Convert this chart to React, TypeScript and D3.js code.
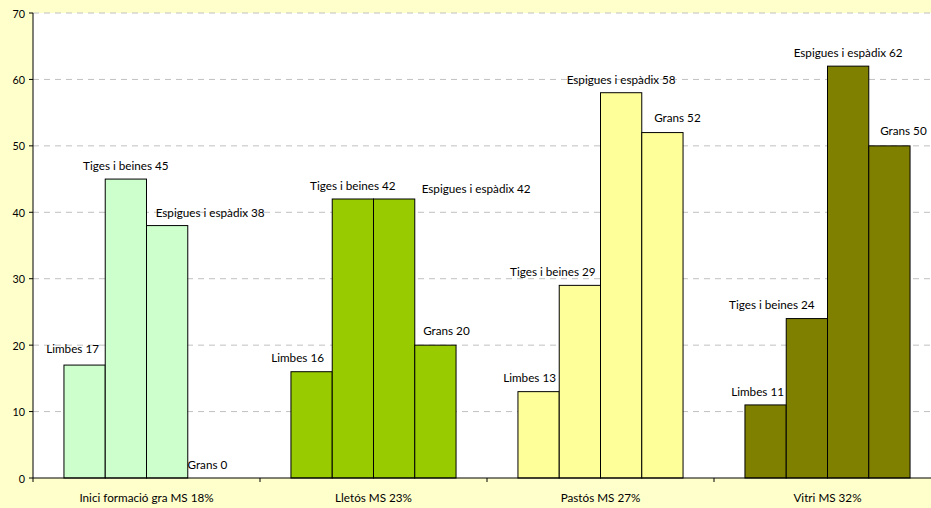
import React from 'react'
import * as d3 from 'd3'

const stages = ['Inici formació gra MS 18%', 'Lletós MS 23%', 'Pastós MS 27%', 'Vitri MS 32%']
const parts = ['Limbes', 'Tiges i beines', 'Espigues i espàdix', 'Grans']
const limbes = [17, 16, 13, 11]
const tiges = [45, 42, 29, 24]
const espigues = [38, 42, 58, 62]
const grans = [0, 20, 52, 50]
const stageColors = ['#CCFFCC', '#99CC00', '#FFFF99', '#808000']
const yTicks = [0, 10, 20, 30, 40, 50, 60, 70]

// label nudges (px) so labels don't overlap, as in the original
const labelDx = [
	[-12, 0, 43, -1],
	[-14, 0, 82, 11],
	[-9, -27, 0, 15],
	[-8, -35, 0, 14]
]
const labelDy = [
	[-3, 0, 0, 0],
	[-1, 0, 3, -1],
	[-1, 0, 0, -2],
	[0, -1, 0, -2]
]

const width = 931
const height = 508
const marginTop = 13
const marginLeft = 33
const plotRight = 941
const plotBottom = 478
const font = 'Lato, "DejaVu Sans", sans-serif'

const App = () => {
	const values = [limbes, tiges, espigues, grans]

	const x0 = d3.scaleBand().domain(stages).range([marginLeft, plotRight]).padding(0)
	const x1 = d3
		.scaleBand()
		.domain(parts)
		.range([0, x0.bandwidth()])
		.paddingInner(0)
		.paddingOuter(0.75)
	const y = d3.scaleLinear().domain([0, 70]).range([plotBottom, marginTop])

	return (
		<svg
			width={width}
			height={height}
			style={{ display: 'block', position: 'absolute', left: 0, top: 0 }}
		>
			<rect x={0} y={0} width={width} height={height} fill='#FFFFCC' />
			<rect
				x={marginLeft}
				y={marginTop}
				width={plotRight - marginLeft}
				height={plotBottom - marginTop}
				fill='#FFFFFF'
			/>
			{/* grid */}
			{yTicks
				.filter(t => t > 0)
				.map(t => (
					<line
						key={'g' + t}
						x1={marginLeft}
						x2={plotRight}
						y1={y(t)}
						y2={y(t)}
						stroke='#C0C0C0'
						strokeWidth={1}
						strokeDasharray='6,5'
					/>
				))}
			{/* bars */}
			{stages.map((s, gi) => (
				<g key={s} transform={`translate(${x0(s)},0)`}>
					{parts.map((p, pi) => {
						const v = values[pi][gi]
						return (
							<rect
								key={p}
								x={x1(p)}
								y={y(v)}
								width={x1.bandwidth()}
								height={plotBottom - y(v)}
								fill={stageColors[gi]}
								stroke='#000'
								strokeWidth={1}
							/>
						)
					})}
					{parts.map((p, pi) => {
						const v = values[pi][gi]
						return (
							<text
								key={'l' + p}
								x={(x1(p) as number) + x1.bandwidth() / 2 + labelDx[gi][pi]}
								y={y(v) - 14 + labelDy[gi][pi]}
								textAnchor='middle'
								dominantBaseline='central'
								fontFamily={font}
								fontSize={11.7}
								fill='#000'
							>
								{`${p} ${v}`}
							</text>
						)
					})}
				</g>
			))}
			{/* y axis */}
			<line x1={marginLeft} x2={marginLeft} y1={marginTop} y2={plotBottom} stroke='#000' />
			{yTicks.map(t => (
				<g key={'t' + t}>
					<line x1={marginLeft - 4} x2={marginLeft} y1={y(t)} y2={y(t)} stroke='#000' />
					<text
						x={marginLeft - 8}
						y={y(t)}
						textAnchor='end'
						dominantBaseline='central'
						fontFamily={font}
						fontSize={10.8}
					>
						{t}
					</text>
				</g>
			))}
			{/* x axis */}
			<line x1={marginLeft} x2={plotRight} y1={plotBottom} y2={plotBottom} stroke='#000' />
			{stages.map(s => (
				<g key={'x' + s}>
					<line
						x1={x0(s)}
						x2={x0(s)}
						y1={plotBottom}
						y2={plotBottom + 4}
						stroke='#000'
					/>
					<text
						x={(x0(s) as number) + x0.bandwidth() / 2}
						y={plotBottom + 19}
						textAnchor='middle'
						dominantBaseline='central'
						fontFamily={font}
						fontSize={11.7}
					>
						{s}
					</text>
				</g>
			))}
		</svg>
	)
}

export default App
